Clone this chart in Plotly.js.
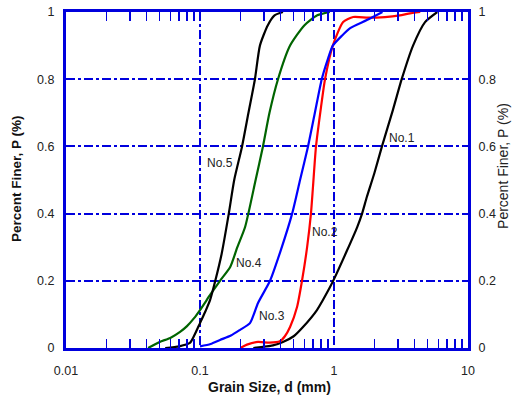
<!DOCTYPE html>
<html><head><meta charset="utf-8">
<script src="https://cdn.plot.ly/plotly-3.0.1.min.js"></script>
<style>body{margin:0;background:#fff}#c{width:512px;height:396px}</style>
</head><body><div id="c"></div>
<script>
// Grain size (mm) and percent finer for each sample
const d1 = [0.25,0.35,0.416,0.5,0.587,0.746,0.93,1.0,1.25,1.49,1.62,1.76,2.0,2.28,2.75,3.2,3.89,4.78,5.9];
const p1 = [0,0.008,0.018,0.035,0.0625,0.113,0.18,0.205,0.29,0.36,0.4,0.45,0.52,0.6,0.708,0.8,0.9,0.97,1.0];

const d2 = [0.2,0.224,0.271,0.33,0.395,0.43,0.47,0.53,0.577,0.63,0.673,0.697,0.734,0.8,0.857,0.98,1.17,1.39,1.8,2.4,3.1,3.6,4.4];
const p2 = [0,0.01,0.018,0.016,0.02,0.035,0.0625,0.122,0.2,0.3,0.4,0.48,0.6,0.717,0.8,0.9,0.97,0.985,0.983,0.985,0.99,0.995,1.0];

const d3 = [0.1,0.12,0.141,0.17,0.199,0.236,0.271,0.333,0.4,0.487,0.558,0.64,0.72,0.81,0.9,0.98,1.15,1.32,1.76,2.3];
const p3 = [0.005,0.012,0.024,0.037,0.054,0.074,0.134,0.2,0.29,0.4,0.5,0.6,0.7,0.8,0.86,0.9,0.93,0.952,0.976,1.0];

const d4 = [0.041,0.05,0.06,0.071,0.08,0.09,0.1,0.12,0.141,0.168,0.19,0.217,0.26,0.295,0.33,0.382,0.47,0.6,0.75,0.93];
const p4 = [0,0.018,0.03,0.048,0.065,0.088,0.113,0.16,0.2,0.241,0.3,0.36,0.5,0.6,0.7,0.8,0.9,0.96,0.99,1.0];

const d5 = [0.055,0.07,0.084,0.09,0.1,0.11,0.119,0.13,0.145,0.164,0.18,0.206,0.23,0.257,0.28,0.32,0.36,0.416];
const p5 = [0,0.005,0.015,0.035,0.074,0.11,0.143,0.2,0.28,0.4,0.5,0.6,0.7,0.8,0.9,0.96,0.99,1.0];

const sampleNames = ["No.1","No.2","No.3","No.4","No.5"];
const xTickVals = [0.01,0.1,1,10];
const xTickText = ["0.01","0.1","1","10"];
const yTickVals = [0,0.2,0.4,0.6,0.8,1];
const yTickText = ["0","0.2","0.4","0.6","0.8","1"];
// label anchor positions (grain size, percent finer)
const labelD = [3.2,0.86,0.344,0.232,0.141];
const labelP = [0.625,0.345,0.095,0.253,0.55];

const minorX = [];
[0.01,0.1,1].forEach(b=>{for(let k=2;k<=9;k++) minorX.push(b*k);});

const colors = ["#000000","#ff0000","#0000ff","#006400","#000000"];
const ds=[d1,d2,d3,d4,d5], ps=[p1,p2,p3,p4,p5];
const traces = ds.map((d,i)=>({x:d,y:ps[i],type:'scatter',mode:'lines',
  line:{color:colors[i],width:2.2,shape:'spline',smoothing:0.6},showlegend:false,hoverinfo:'skip'}));
traces.push({x:[0.01,10],y:[0,1],yaxis:'y2',type:'scatter',mode:'lines',line:{width:0},showlegend:false,hoverinfo:'skip'});

const blue = "#0000dd";
const FAM = "Liberation Sans, Arial, sans-serif";
const tickFont = {family:FAM,size:12.5,color:"#222"};
const clear = 'rgba(0,0,0,0)';
const layout = {
  width:512,height:396,
  margin:{l:66,r:44,t:12,b:48},
  paper_bgcolor:'#fff',plot_bgcolor:'#fff',
  font:tickFont,
  xaxis:{type:'log',range:[-2,1],tickmode:'array',tickvals:xTickVals,ticktext:xTickText,
    showgrid:true,gridcolor:blue,gridwidth:2,griddash:'dashdot',
    showline:true,linecolor:blue,linewidth:3,mirror:'allticks',ticks:'outside',ticklen:9,tickcolor:clear,zeroline:false,
    minor:{tickmode:'array',tickvals:minorX,ticks:'inside',ticklen:3.5,tickcolor:blue,tickwidth:1.5,showgrid:false},
    tickfont:tickFont},
  yaxis:{range:[0,1],tickmode:'array',tickvals:yTickVals,ticktext:yTickText,
    showgrid:true,gridcolor:blue,gridwidth:2,griddash:'dashdot',
    showline:true,linecolor:blue,linewidth:3,mirror:true,ticks:'outside',ticklen:6,tickcolor:clear,zeroline:false,
    tickfont:tickFont},
  yaxis2:{overlaying:'y',side:'right',range:[0,1],tickmode:'array',tickvals:yTickVals,ticktext:yTickText,
    showgrid:false,zeroline:false,showline:false,ticks:'outside',ticklen:7,tickcolor:clear,
    tickfont:tickFont},
  annotations: sampleNames.map((n,i)=>({x:Math.log10(labelD[i]),y:labelP[i],xref:'x',yref:'y',text:n,showarrow:false,
    font:{family:FAM,size:12,color:'#222'}})).concat([
    {xref:'paper',yref:'paper',x:-0.1219,y:0.506,xanchor:'center',yanchor:'middle',text:'<b>Percent Finer, P (%)</b>',textangle:-90,showarrow:false,
      font:{family:FAM,size:13.5,color:'#111'}},
    {xref:'paper',yref:'paper',x:1.087,y:0.5417,xanchor:'center',yanchor:'middle',text:'Percent Finer, P (%)',textangle:-90,showarrow:false,
      font:{family:FAM,size:14,color:'#222'}},
    {xref:'paper',yref:'paper',x:0.506,y:-0.116,xanchor:'center',yanchor:'middle',text:'<b>Grain Size, d (mm)</b>',showarrow:false,
      font:{family:FAM,size:14,color:'#111'}}
  ])
};
Plotly.newPlot('c',traces,layout,{staticPlot:true});
</script></body></html>
